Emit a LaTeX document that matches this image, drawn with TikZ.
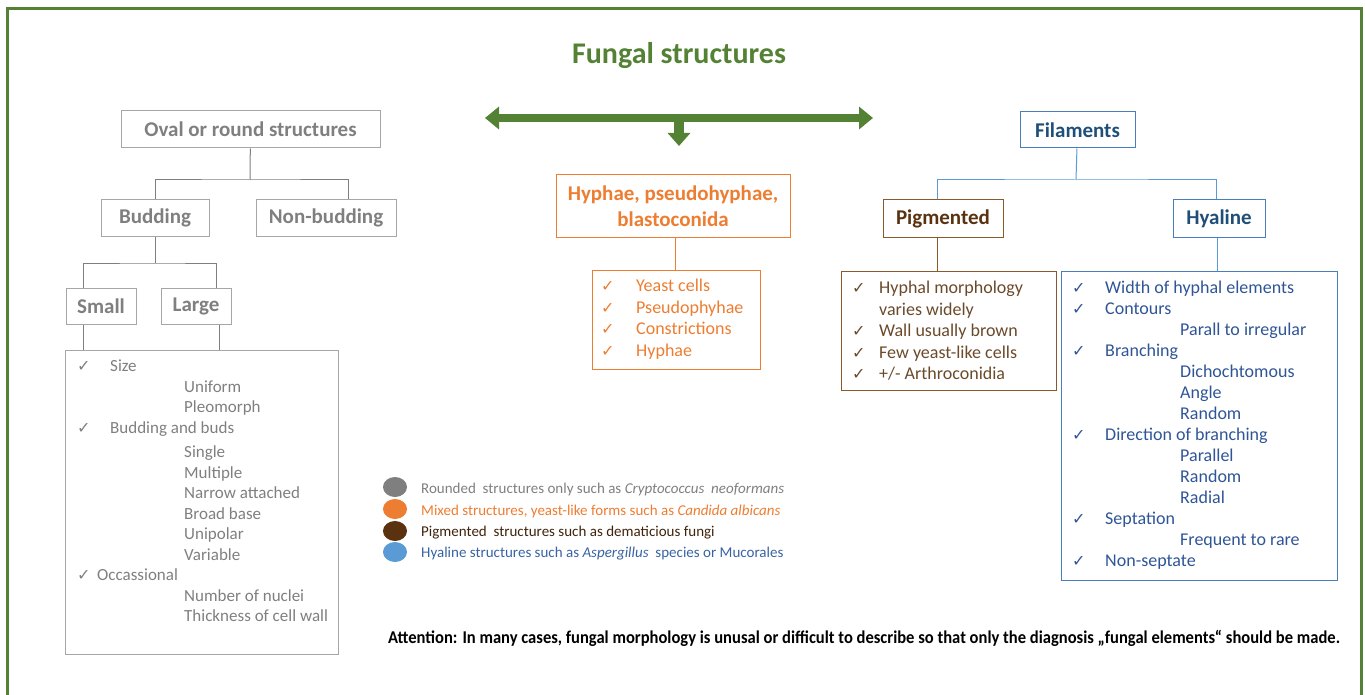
\documentclass[tikz,border=0pt]{standalone}
\usepackage{fontspec}
\setmainfont{Carlito}
\newfontfamily\symfont{DejaVu Sans}
\usetikzlibrary{arrows.meta, positioning, shapes.geometric}

\definecolor{fungreen}{HTML}{548235}
\definecolor{roundgray}{HTML}{7F7F7F}
\definecolor{roundedge}{HTML}{A6A6A6}
\definecolor{mixorange}{HTML}{ED7D31}
\definecolor{pigbrown}{HTML}{5A3210}
\definecolor{pigedge}{HTML}{8B5A2B}
\definecolor{pigtext}{HTML}{6B4A2A}
\definecolor{hyaldark}{HTML}{1F4E79}
\definecolor{hyaltext}{HTML}{2F5597}
\definecolor{hyaledge}{HTML}{4A7EBB}
\definecolor{hyallight}{HTML}{5B9BD5}

\newcommand{\chk}[1]{\makebox[#1][l]{\symfont\fontsize{16}{16}\selectfont ✓}}

\begin{document}
\begin{tikzpicture}[x=1pt, y=-1pt, >=Stealth,
  box/.style={draw, rectangle, inner sep=0pt, line width=1pt},
  head/.style={font=\fontsize{21}{25}\selectfont\bfseries},
  graybox/.style={box, draw=roundedge, text=roundgray},
  orangebox/.style={box, draw=mixorange, text=mixorange},
  brownbox/.style={box, draw=pigedge, text=pigbrown},
  bluebox/.style={box, draw=hyaledge, text=hyaldark},
  listtext/.style={anchor=north west, inner sep=0pt, align=left},
  grayline/.style={draw=roundgray, line width=1pt},
  orangeline/.style={draw=mixorange, line width=1pt},
  brownline/.style={draw=pigedge, line width=1pt},
  blueline/.style={draw=hyallight, line width=1pt},
  bigarrow/.style={draw=fungreen, line width=8pt},
  dot/.style={ellipse, minimum width=24pt, minimum height=20pt, inner sep=0pt},
  legend/.style={anchor=west, inner sep=0pt, font=\fontsize{15}{17}\selectfont}]

\useasboundingbox (0,0) rectangle (1365,695);
\draw[fungreen, line width=3pt] (7,700) -- (7,9) -- (1361,9) -- (1361,700);

% Title and arrows
\node[text=fungreen, font=\fontsize{30}{34}\selectfont\bfseries] (title) at (679,56) {Fungal structures};
\coordinate (arrowl) at (485,118);
\coordinate (arrowr) at (873,118);
\coordinate (arrowm) at (679,118);
\coordinate (arrowd) at (679,146);
\draw[bigarrow, {Triangle[length=14pt,width=22pt]}-{Triangle[length=14pt,width=22pt]}] (arrowl) -- (arrowr);
\draw[bigarrow, line width=10pt, -{Triangle[length=13pt,width=22pt]}] (arrowm) -- (arrowd);

% Oval or round structures
\node[graybox, head, minimum width=259, minimum height=37] (oval) at (250.5,129.5) {Oval or round structures};
\node[graybox, head, minimum width=108, minimum height=36] (budding) at (155,218) {Budding};
\node[graybox, head, minimum width=140, minimum height=36] (nonbud) at (326,218) {Non-budding};
\node[graybox, head, minimum width=70, minimum height=36] (small) at (101,306) {Small};
\node[graybox, head, minimum width=70, minimum height=36] (large) at (196,306) {Large};
\node[graybox, minimum width=273, minimum height=304] (roundlist) at (201.5,502) {};
\node[listtext, text=roundgray, font=\fontsize{17}{20.5}\selectfont] (roundtext) at (77,360) {%
  \chk{33pt}Size\\
  \hspace*{107pt}Uniform\\
  \hspace*{107pt}Pleomorph\\
  \chk{33pt}Budding and buds\\[4pt]
  \hspace*{107pt}Single\\
  \hspace*{107pt}Multiple\\
  \hspace*{107pt}Narrow attached\\
  \hspace*{107pt}Broad base\\
  \hspace*{107pt}Unipolar\\
  \hspace*{107pt}Variable\\
  \chk{20pt}Occassional\\
  \hspace*{107pt}Number of nuclei\\
  \hspace*{107pt}Thickness of cell wall};

\coordinate (ovalj) at (250,180);
\coordinate (budj) at (155,263);
\draw[grayline] (oval) -- (ovalj);
\draw[grayline] (budding.north) |- (ovalj) -| ([xshift=22pt]nonbud.north);
\draw[grayline] (budding) -- (budj);
\draw[grayline] ([xshift=-18pt]small.north) |- (budj) -| ([xshift=20pt]large.north);
\draw[grayline] ([xshift=-18pt]small.south) -- ([xshift=-18pt]small.south |- roundlist.north);
\draw[grayline] ([xshift=23pt]large.south) -- ([xshift=23pt]large.south |- roundlist.north);

% Mixed structures
\node[orangebox, font=\fontsize{21}{26}\selectfont\bfseries, align=center, minimum width=234, minimum height=62] (mixed) at (673,206) {Hyphae, pseudohyphae,\\blastoconida};
\node[orangebox, minimum width=168, minimum height=99] (mixedlist) at (676,319.5) {};
\node[listtext, text=mixorange, font=\fontsize{18}{21.5}\selectfont] (mixedtext) at (601,279) {%
  \chk{35pt}Yeast cells\\
  \chk{35pt}Pseudophyhae\\
  \chk{35pt}Constrictions\\
  \chk{35pt}Hyphae};
\draw[orangeline] ([xshift=2pt]mixed.south) -- ([xshift=2pt]mixed.south |- mixedlist.north);

% Filaments
\node[bluebox, head, minimum width=115, minimum height=36] (filaments) at (1077.5,130) {Filaments};
\node[brownbox, head, minimum width=120, minimum height=37] (pigmented) at (943,218.5) {Pigmented};
\node[bluebox, head, minimum width=92, minimum height=37] (hyaline) at (1219,218.5) {Hyaline};
\node[brownbox, minimum width=215, minimum height=119] (pigmlist) at (948.5,330.5) {};
\node[bluebox, minimum width=276, minimum height=309] (hyallist) at (1199,425.5) {};
\node[listtext, text=pigtext, font=\fontsize{18}{21.5}\selectfont] (pigmtext) at (852,281) {%
  \chk{27pt}Hyphal morphology\\
  \hspace*{27pt}varies widely\\
  \chk{27pt}Wall usually brown\\
  \chk{27pt}Few yeast-like cells\\
  \chk{27pt}+/- Arthroconidia};
\node[listtext, text=hyaltext, font=\fontsize{18}{21}\selectfont] (hyaltext) at (1072,281) {%
  \chk{33pt}Width of hyphal elements\\
  \chk{33pt}Contours\\
  \hspace*{108pt}Parall to irregular\\
  \chk{33pt}Branching\\
  \hspace*{108pt}Dichochtomous\\
  \hspace*{108pt}Angle\\
  \hspace*{108pt}Random\\
  \chk{33pt}Direction of branching\\
  \hspace*{108pt}Parallel\\
  \hspace*{108pt}Random\\
  \hspace*{108pt}Radial\\
  \chk{33pt}Septation\\
  \hspace*{108pt}Frequent to rare\\
  \chk{33pt}Non-septate};

\coordinate (filj) at (1076,180);
\draw[blueline] (filaments) -- (filj);
\draw[blueline] ([xshift=-6pt]pigmented.north) |- (filj) -| ([xshift=-3pt]hyaline.north);
\draw[brownline] ([xshift=-6pt]pigmented.south) -- ([xshift=-6pt]pigmented.south |- pigmlist.north);
\draw[blueline] ([xshift=-2pt]hyaline.south) -- ([xshift=-2pt]hyaline.south |- hyallist.north);

% Legend
\node[dot, fill=roundgray] (dotgray) at (395,487) {};
\node[dot, fill=mixorange] (dotorange) at (395,509) {};
\node[dot, fill=pigbrown] (dotbrown) at (395,531) {};
\node[dot, fill=hyallight] (dotblue) at (395,552) {};
\node[legend, text=roundgray] (leggray) at (421,489) {Rounded\ \ structures only such as \textit{Cryptococcus\ \ neoformans}};
\node[legend, text=mixorange] (legorange) at (421,511) {Mixed structures, yeast-like forms such as \textit{Candida albicans}};
\node[legend, text=pigbrown!70!black] (legbrown) at (421,533) {Pigmented\ \ structures such as dematicious fungi};
\node[legend, text=hyaltext!80!hyallight] (legblue) at (421,554) {Hyaline structures such as \textit{Aspergillus}\ \ species or Mucorales};

% Note
\node[anchor=west, inner sep=0pt, font=\fontsize{18}{20}\selectfont\bfseries] (attention) at (388,638) {\scalebox{0.92}[1]{Attention: In many cases, fungal morphology is unusal or difficult to describe so that only the diagnosis „fungal elements“ should be made.}};
\end{tikzpicture}
\end{document}
